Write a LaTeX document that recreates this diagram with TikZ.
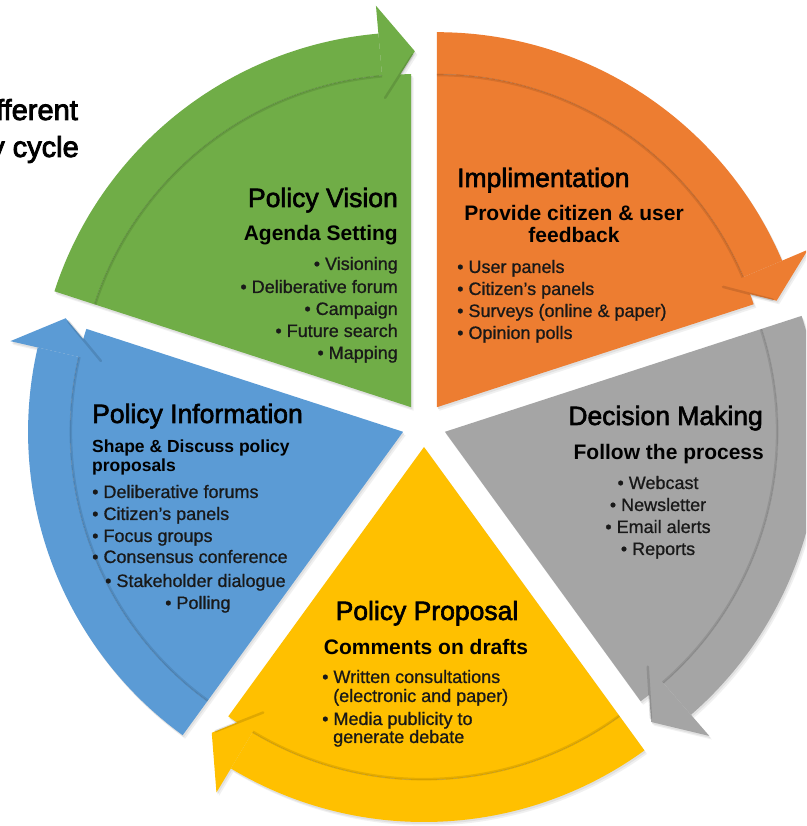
\documentclass[tikz,border=0pt]{standalone}
\usepackage{fontspec}
\setmainfont{Liberation Sans}
\newfontfamily\ttlfont{Liberation Sans}[FakeBold=2.2]
\newfontfamily\itmfont{Liberation Sans}[FakeBold=0.8]
\newfontfamily\hdrfont{Liberation Sans}[FakeBold=3]
\usetikzlibrary{calc}
\definecolor{cgreen}{HTML}{70AD47}
\definecolor{corange}{HTML}{ED7D31}
\definecolor{cgray}{HTML}{A5A5A5}
\definecolor{cyellow}{HTML}{FFC000}
\definecolor{cblue}{HTML}{5B9BD5}
\newcommand\sectorshape[2]{%
 \pgfmathsetmacro\apx{424+22*cos(#1+36)}%
 \pgfmathsetmacro\apy{401+22*sin(#1+36)}%
 \pgfmathsetmacro\angA{#1+5}%
 \pgfmathsetmacro\angB{#1+72}%
 \pgfmathsetmacro\angT{#1-0.6}%
 \begin{scope}[shift={(\apx,\apy)}]
  \fill[#2] (0,0) -- (#1:333pt) arc[start angle=#1, end angle=\angB, radius=333pt] -- cycle;
  \fill[#2] (\angA:333pt) arc[start angle=\angA, end angle=\angB, radius=333pt] -- (\angB:375pt) arc[start angle=\angB, end angle=\angA, radius=375pt] -- cycle;
  \fill[#2] (\angA:308pt) -- (\angA:403pt) -- (\angT:356pt) -- cycle;
 \end{scope}}
\newcommand\bandline[1]{%
 \pgfmathsetmacro\apx{424+22*cos(#1+36)}%
 \pgfmathsetmacro\apy{401+22*sin(#1+36)}%
 \pgfmathsetmacro\angA{#1+5}%
 \pgfmathsetmacro\angB{#1+72}%
 \pgfmathsetmacro\angT{#1-0.6}%
 \begin{scope}[shift={(\apx,\apy)}]
  \draw[black, opacity=0.10, line width=2.2pt] (\angA:332pt) arc[start angle=\angA, end angle=\angB, radius=332pt];
  \draw[black, opacity=0.10, line width=1pt] (\angA:333pt) arc[start angle=\angA, end angle=\angB, radius=333pt];
  \draw[black, opacity=0.12, line width=2.5pt, line cap=round] ($(\angA:309pt)!0.03!(\angT:356pt)$) -- ($(\angA:309pt)!0.93!(\angT:356pt)$);
 \end{scope}}
\tikzset{
 ttl/.style={font=\ttlfont\fontsize{26.5}{30}\selectfont, inner sep=0pt, text=black},
 sbt/.style={font=\bfseries\fontsize{21}{23}\selectfont, inner sep=0pt, text=black},
 sbs/.style={font=\bfseries\fontsize{17.5}{19}\selectfont, inner sep=0pt, text=black},
 itm/.style={font=\itmfont\fontsize{18}{22}\selectfont, inner sep=0pt, text=black!90},
 hdr/.style={font=\hdrfont\fontsize{29}{32}\selectfont, inner sep=0pt, text=black}
}
\begin{document}
\begin{tikzpicture}[x=1pt,y=1pt]
\useasboundingbox (0,0) rectangle (806,826);
\clip (0,0) rectangle (806,826);
\fill[white] (0,0) rectangle (806,826);
% shadows
\foreach \a in {90,18,306,234,162} {\sectorshape{\a}{black!6,xshift=2.5pt,yshift=-3.5pt}}
\foreach \a in {90,18,306,234,162} {\sectorshape{\a}{black!12,xshift=1.2pt,yshift=-2pt}}
% sectors
\sectorshape{90}{cgreen}
\sectorshape{18}{corange}
\sectorshape{306}{cgray}
\sectorshape{234}{cyellow}
\sectorshape{162}{cblue}
\foreach \a in {90,18,306,234,162} {\bandline{\a}}
% header fragments (cut at the left edge, as in the reference)
\node[hdr, anchor=base east] (h1) at (78,706) {fferent};
\node[hdr, anchor=base east] (h2) at (79,669) {y cycle};
% green
\node[ttl, anchor=base east] (gT) at (398,619) {Policy Vision};
\node[sbt, anchor=base east] (gS) at (398,585) {Agenda Setting};
\node[itm, anchor=base east] (g1) at (398,556) {• Visioning};
\node[itm, anchor=base east] (g2) at (398,533) {• Deliberative forum};
\node[itm, anchor=base east] (g3) at (398,511) {• Campaign};
\node[itm, anchor=base east] (g4) at (398,489) {• Future search};
\node[itm, anchor=base east] (g5) at (398,467) {• Mapping};
% orange
\node[ttl, anchor=base west] (oT) at (457,639) {Implimentation};
\node[sbt, anchor=base] (oS1) at (574,605) {Provide citizen \& user};
\node[sbt, anchor=base] (oS2) at (574,583) {feedback};
\node[itm, anchor=base west] (o1) at (457,553) {• User panels};
\node[itm, anchor=base west] (o2) at (457,531) {• Citizen’s panels};
\node[itm, anchor=base west] (o3) at (457,509) {• Surveys (online \& paper)};
\node[itm, anchor=base west] (o4) at (457,487) {• Opinion polls};
% gray
\node[ttl, anchor=base east] (dT) at (763,401) {Decision Making};
\node[sbt, anchor=base east] (dS) at (764,366) {Follow the process};
\node[itm, anchor=base] (d1) at (658,337) {• Webcast};
\node[itm, anchor=base] (d2) at (658,315) {• Newsletter};
\node[itm, anchor=base] (d3) at (658,293) {• Email alerts};
\node[itm, anchor=base] (d4) at (658,271) {• Reports};
% yellow
\node[ttl, anchor=base] (yT) at (427,206) {Policy Proposal};
\node[sbt, anchor=base] (yS) at (426,171) {Comments on drafts};
\node[itm, anchor=base west] (y1) at (322,143) {• Written consultations};
\node[itm, anchor=base west] (y1b) at (333,124) {(electronic and paper)};
\node[itm, anchor=base west] (y2) at (322,101) {• Media publicity to};
\node[itm, anchor=base west] (y2b) at (333,83) {generate debate};
% blue
\node[ttl, anchor=base west] (bT) at (92,403) {Policy Information};
\node[sbs, anchor=base west] (bS1) at (92,373) {Shape \& Discuss policy};
\node[sbs, anchor=base west] (bS2) at (92,354) {proposals};
\node[itm, anchor=base west] (b1) at (92,328) {• Deliberative forums};
\node[itm, anchor=base west] (b2) at (92,306) {• Citizen’s panels};
\node[itm, anchor=base west] (b3) at (92,284) {• Focus groups};
\node[itm, anchor=base west] (b4) at (92,263) {• Consensus conference};
\node[itm, anchor=base west] (b5) at (105,239) {• Stakeholder dialogue};
\node[itm, anchor=base west] (b6) at (165,217) {• Polling};
\end{tikzpicture}
\end{document}
